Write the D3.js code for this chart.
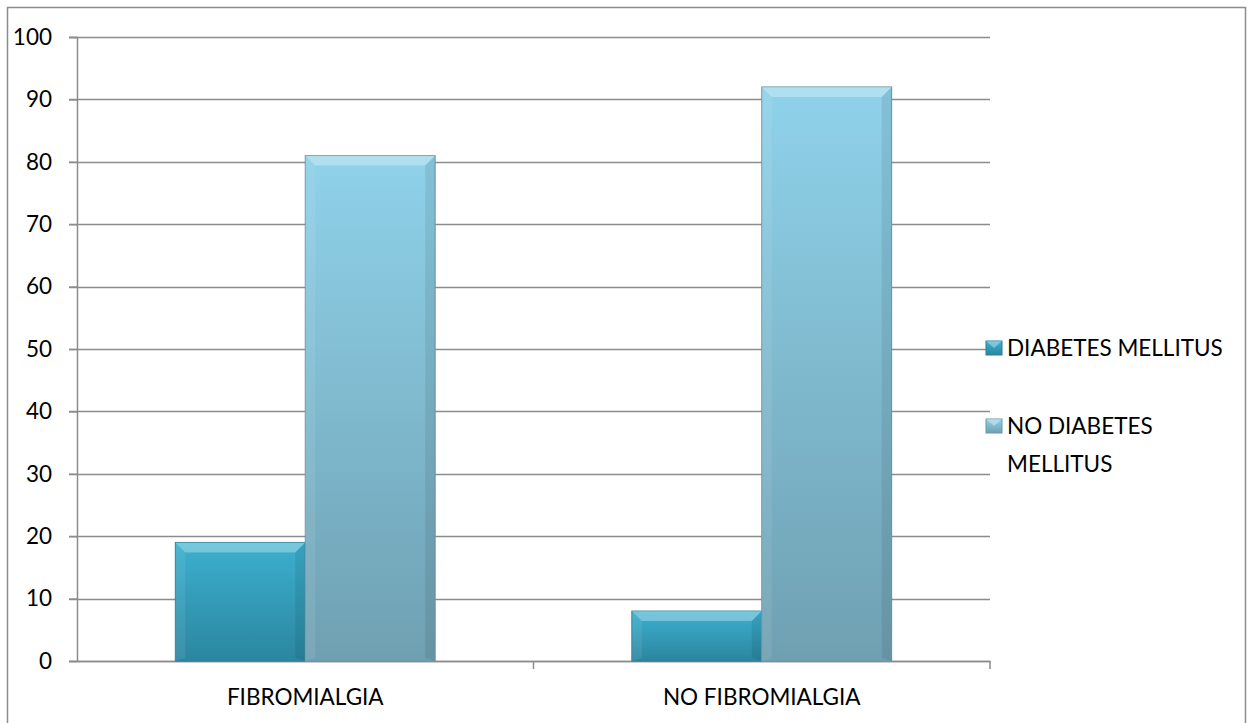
<!DOCTYPE html>
<html>
<head>
<meta charset="utf-8">
<script src="https://cdn.jsdelivr.net/npm/d3@7"></script>
<style>
  body { margin: 0; background: #fff; }
  svg { display: block; font-family: Lato, "Open Sans", sans-serif; }
</style>
</head>
<body>
<svg id="chart" width="1248" height="723"></svg>
<script>
const categories = ["FIBROMIALGIA", "NO FIBROMIALGIA"];
const seriesNames = ["DIABETES MELLITUS", "NO DIABETES MELLITUS"];
const diabetes = [19, 8];
const noDiabetes = [81, 92];
const yTicks = [0, 10, 20, 30, 40, 50, 60, 70, 80, 90, 100];

const svg = d3.select("#chart");
const margin = { top: 37, left: 77, right: 990, bottom: 661 };
const fontSize = 22.5;

// outer frame
svg.append("rect")
  .attr("x", 7.5).attr("y", 7.5)
  .attr("width", 1238).attr("height", 730)
  .attr("fill", "none").attr("stroke", "#8c8c8c").attr("stroke-width", 1.5);

const x = d3.scaleBand().domain(categories).range([margin.left, margin.right]);
const xs = d3.scaleBand().domain(seriesNames).range([0, x.bandwidth()]).paddingOuter(0.757).paddingInner(0);
const y = d3.scaleLinear().domain([0, 100]).range([margin.bottom, margin.top]);

const defs = svg.append("defs");
const grads = [
  { id: "g0", top: "#3cb0cf", bot: "#2b86a0" },
  { id: "g1", top: "#8fd2ea", bot: "#6fa0b2" }
];
grads.forEach(g => {
  const lg = defs.append("linearGradient").attr("id", g.id)
    .attr("x1", 0).attr("y1", 0).attr("x2", 0).attr("y2", 1);
  lg.append("stop").attr("offset", "0%").attr("stop-color", g.top);
  lg.append("stop").attr("offset", "100%").attr("stop-color", g.bot);
});

// gridlines
svg.append("g")
  .selectAll("line")
  .data(yTicks)
  .join("line")
  .attr("x1", margin.left - 8).attr("x2", margin.right)
  .attr("y1", d => Math.round(y(d)) + 0.5).attr("y2", d => Math.round(y(d)) + 0.5)
  .attr("stroke", "#8c8c8c").attr("stroke-width", 1.5);

// y axis
const yAxis = svg.append("g")
  .attr("transform", `translate(${margin.left},0)`)
  .call(d3.axisLeft(y).tickValues(yTicks).tickSize(8).tickPadding(17));
yAxis.attr("font-family", null).attr("font-size", null);
yAxis.select(".domain").attr("stroke", "#8c8c8c").attr("stroke-width", 1.5);
yAxis.selectAll(".tick line").attr("stroke", "#8c8c8c").attr("stroke-width", 1.5);
yAxis.selectAll("text").style("font-size", fontSize + "px").attr("fill", "#000");

// x axis
const xAxis = svg.append("g")
  .attr("transform", `translate(0,${margin.bottom})`)
  .call(d3.axisBottom(x).tickSize(0).tickPadding(28));
xAxis.attr("font-family", null).attr("font-size", null);
xAxis.select(".domain").attr("stroke", "#8c8c8c").attr("stroke-width", 1.5);
xAxis.selectAll("text").style("font-size", fontSize + "px").attr("fill", "#000");
svg.append("g")
  .selectAll("line")
  .data([margin.left + x.bandwidth(), margin.right])
  .join("line")
  .attr("x1", d => d).attr("x2", d => d)
  .attr("y1", margin.bottom).attr("y2", margin.bottom + 8)
  .attr("stroke", "#8c8c8c").attr("stroke-width", 1.5);

// bars
const rows = [];
categories.forEach((c, i) => {
  rows.push({ cat: c, s: seriesNames[0], v: diabetes[i], g: 0 });
  rows.push({ cat: c, s: seriesNames[1], v: noDiabetes[i], g: 1 });
});

const bars = svg.append("g").selectAll("g").data(rows).join("g");
bars.append("rect")
  .attr("x", d => x(d.cat) + xs(d.s))
  .attr("y", d => y(d.v))
  .attr("width", xs.bandwidth())
  .attr("height", d => y(0) - y(d.v))
  .attr("fill", d => `url(#g${d.g})`)
  .attr("stroke", d => d.g === 0 ? "#2a7f96" : "#6a98a8")
  .attr("stroke-width", 1);
// bevel: light top, darker sides
const bv = 10;
bars.append("polygon")
  .attr("points", d => {
    const x0 = x(d.cat) + xs(d.s), x1 = x0 + xs.bandwidth(), y0 = y(d.v);
    return [[x0, y0], [x1, y0], [x1 - bv, y0 + bv], [x0 + bv, y0 + bv]].join(" ");
  })
  .attr("fill", "#ffffff").attr("opacity", 0.3);
bars.append("polygon")
  .attr("points", d => {
    const x0 = x(d.cat) + xs(d.s), y0 = y(d.v), y1 = y(0);
    return [[x0, y0], [x0 + bv, y0 + bv], [x0 + bv, y1 - 3], [x0, y1]].join(" ");
  })
  .attr("fill", "#ffffff").attr("opacity", 0.08);
bars.append("polygon")
  .attr("points", d => {
    const x1 = x(d.cat) + xs(d.s) + xs.bandwidth(), y0 = y(d.v), y1 = y(0);
    return [[x1, y0], [x1 - bv, y0 + bv], [x1 - bv, y1 - 3], [x1, y1]].join(" ");
  })
  .attr("fill", "#000000").attr("opacity", 0.08);

// legend
const legend = svg.append("g").style("font-size", fontSize + "px");
const legendItems = [
  { g: 0, lines: ["DIABETES MELLITUS"], y: 348 },
  { g: 1, lines: ["NO DIABETES", "MELLITUS"], y: 426 }
];
legendItems.forEach(it => {
  legend.append("rect")
    .attr("x", 986).attr("y", it.y - 7).attr("width", 16).attr("height", 14)
    .attr("fill", `url(#g${it.g})`)
    .attr("stroke", it.g === 0 ? "#2a7f96" : "#6a98a8");
  legend.append("polygon")
    .attr("points", [[986, it.y - 7], [1002, it.y - 7], [994, it.y]].join(" "))
    .attr("fill", "#fff").attr("opacity", 0.35);
  it.lines.forEach((t, k) => {
    legend.append("text")
      .attr("x", 1007).attr("y", it.y + k * 38)
      .attr("dy", "0.35em")
      .text(t);
  });
});
</script>
</body>
</html>
